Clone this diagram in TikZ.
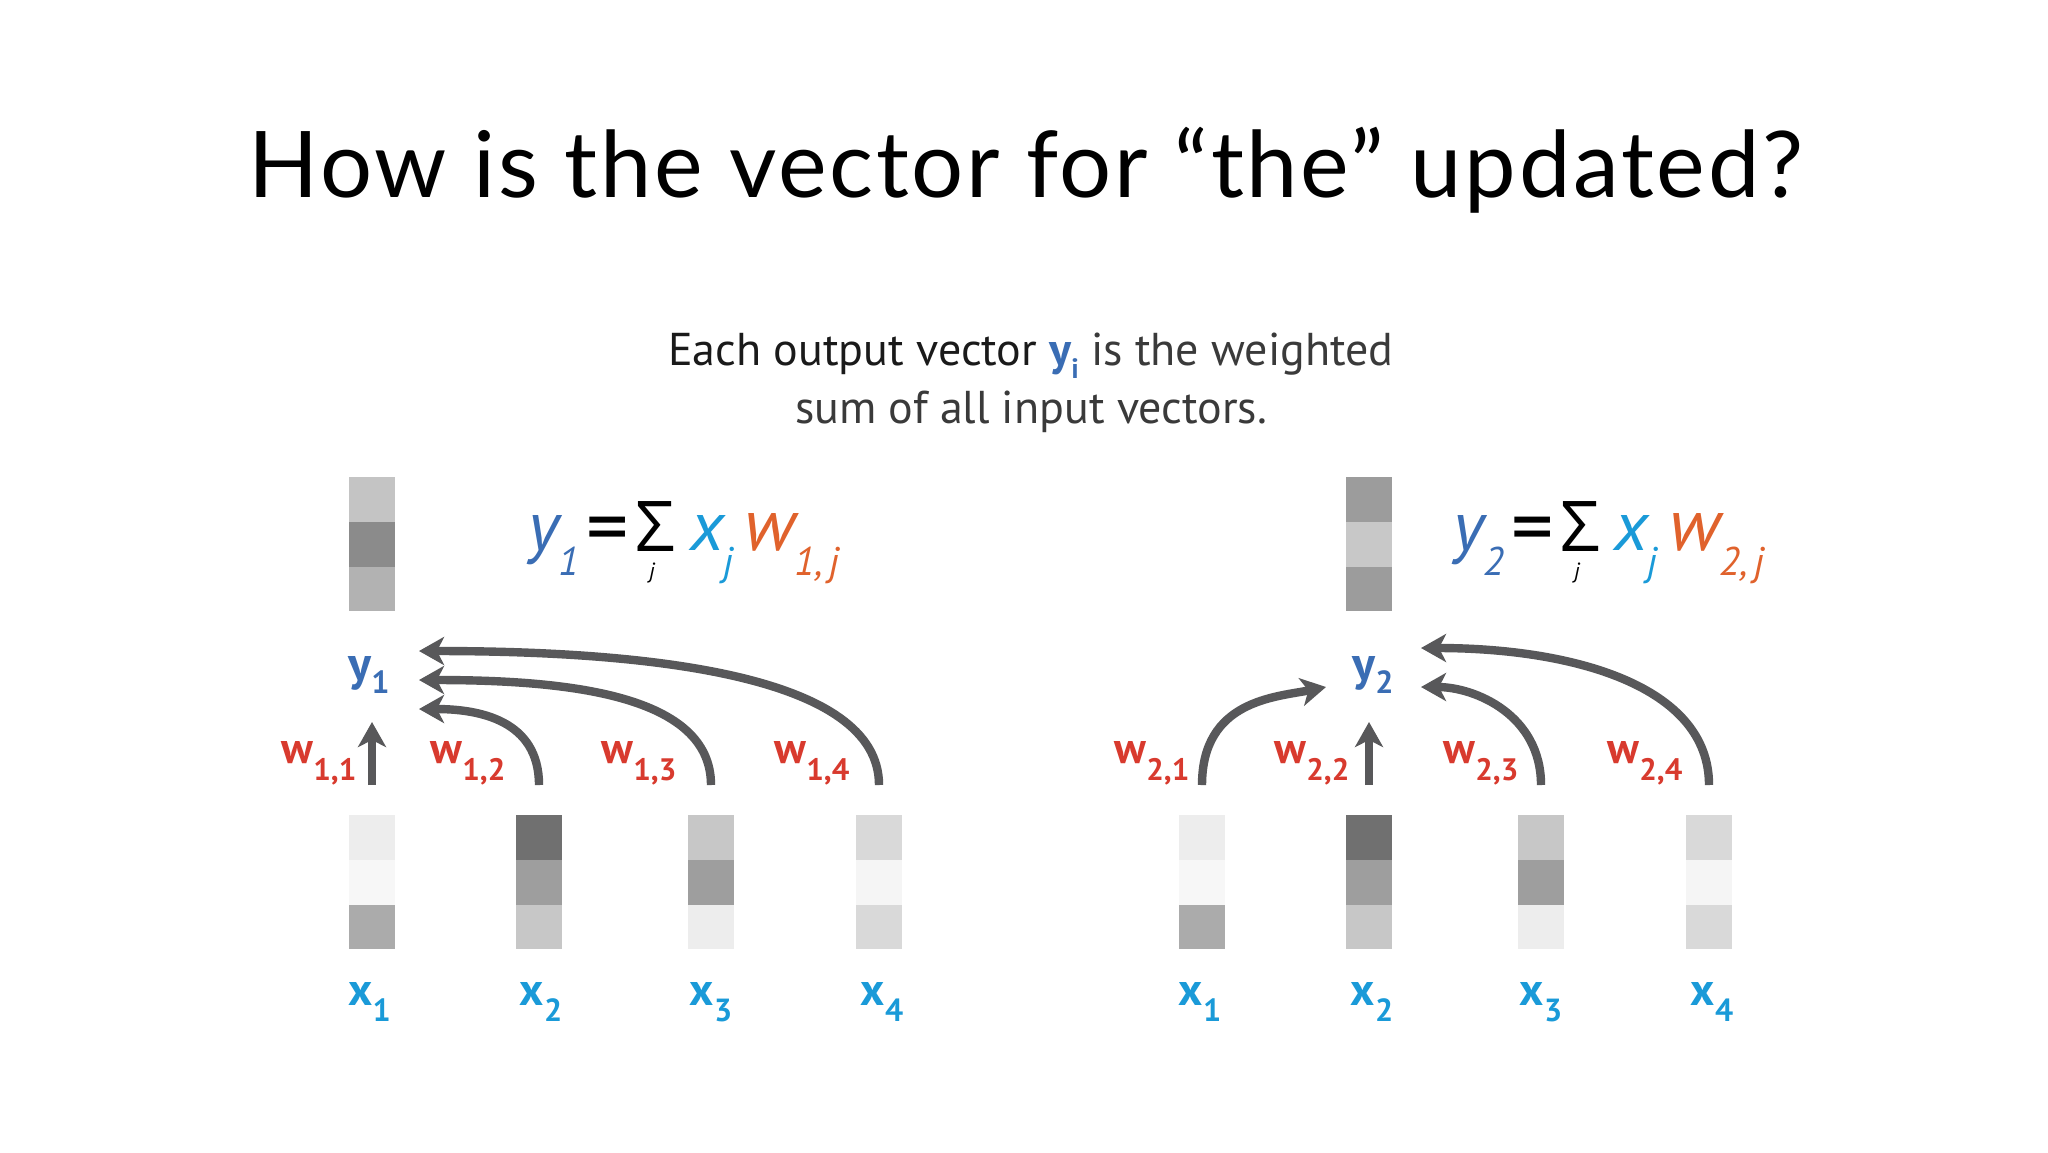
\documentclass[tikz,border=0pt]{standalone}
\usepackage{fontspec}
\setmainfont{PT Sans}
\newfontfamily\titlefont[LetterSpace=3]{Lato}
\newfontfamily\sigfont{Open Sans}
\usetikzlibrary{arrows.meta}
\definecolor{yblue}{HTML}{3A6DB4}
\definecolor{xcyan}{HTML}{1A9AD8}
\definecolor{wred}{HTML}{D83A2E}
\definecolor{forange}{HTML}{E0622C}
\definecolor{arrgray}{HTML}{58585A}
\definecolor{subdark}{HTML}{1A1A1A}
\definecolor{subgray}{HTML}{3A3A3A}
\newcommand{\wsub}[1]{\raisebox{-8.5pt}{\fontsize{15.5}{15.5}\selectfont #1}}
\newcommand{\xsub}[1]{\raisebox{-8pt}{\fontsize{16}{16}\selectfont #1}}
\newcommand{\ysub}[1]{\raisebox{-6.5pt}{\fontsize{16}{16}\selectfont #1}}
\newcommand{\fsub}[1]{\raisebox{-12.5pt}{\fontsize{20}{20}\selectfont #1}}
\newcommand{\vecbar}[6]{%
  \fill[#4] ({#2-22.75},{#3}) rectangle ({#2+22.75},{#3+45});
  \fill[#5] ({#2-22.75},{#3+45}) rectangle ({#2+22.75},{#3+90});
  \fill[#6] ({#2-22.75},{#3+90}) rectangle ({#2+22.75},{#3+134});
  \node[cellbar] (#1) at ({#2},{#3+67}) {};
}
\tikzset{
  every node/.style={inner sep=0pt, outer sep=0pt},
  wlab/.style={text=wred, font=\fontsize{22}{22}\selectfont\bfseries, anchor=base},
  xlab/.style={text=xcyan, font=\fontsize{23}{23}\selectfont\bfseries, anchor=base},
  ylab/.style={text=yblue, font=\fontsize{24}{24}\selectfont\bfseries, anchor=base},
  arr/.style={draw=arrgray, line width=4.2pt, -{Stealth[length=12.5pt,width=14pt,inset=3.5pt]}},
  cellbar/.style={minimum width=22.75pt, minimum height=67pt},
  formula/.style={font=\fontsize{35}{35}\selectfont\itshape, anchor=base west},
  bigw/.style={font=\fontsize{37}{37}\selectfont\itshape, anchor=base west},
  eqsign/.style={font=\fontsize{42}{42}\selectfont, anchor=base},
  sigma/.style={font=\sigfont\fontsize{35}{35}\selectfont, anchor=base},
  sumidx/.style={font=\fontsize{11}{11}\selectfont\itshape, anchor=base},
}
\begin{document}
\begin{tikzpicture}[x=0.5pt, y=-0.5pt]
\fill[white] (0,0) rectangle (2048,1152);
\useasboundingbox (0,0) rectangle (2048,1152);

% title and subtitle
\node[anchor=base, font=\titlefont\fontsize{46}{46}\selectfont] (title) at (1026,197) {How is the vector for “the” updated?};
\node[anchor=base, font=\fontsize{23}{23}\selectfont] (sub1) at (1031,365)
  {\textcolor{subdark}{Each output vector} \textcolor{yblue}{\bfseries y\raisebox{-6.5pt}{\fontsize{14}{14}\selectfont i}} \textcolor{subgray}{is the weighted}};
\node[anchor=base, font=\fontsize{23}{23}\selectfont, text=subgray] (sub2) at (1031,423) {sum of all input vectors.};

% ---------- left diagram ----------
\vecbar{y1bar}{372}{477}{black!23}{black!45.5}{black!30}
\vecbar{x1L}{372}{815}{black!7}{black!3}{black!33}
\vecbar{x2L}{539}{815}{black!56}{black!38}{black!22}
\vecbar{x3L}{711}{815}{black!22}{black!38}{black!7}
\vecbar{x4L}{879}{815}{black!15}{black!4}{black!15}

\node[formula, text=yblue] (f1y) at (528,550) {y\fsub{1}};
\node[eqsign] (f1e) at (608,555) {=};
\node[sigma] (f1s) at (655,551) {Σ};
\node[sumidx] (f1j) at (652,578) {j};
\node[formula, text=xcyan] (f1x) at (690,550) {x\fsub{j}};
\node[bigw, text=forange] (f1w) at (744,550) {w\fsub{1,\,j}};

\node[ylab] (y1) at (369,680) {y\ysub{1}};

\node[wlab] (w11) at (319,763) {w\wsub{1,1}};
\node[wlab] (w12) at (468,763) {w\wsub{1,2}};
\node[wlab] (w13) at (639,763) {w\wsub{1,3}};
\node[wlab] (w14) at (812,763) {w\wsub{1,4}};

\node[xlab] (lx1) at (369.5,1005) {x\xsub{1}};
\node[xlab] (lx2) at (541,1005) {x\xsub{2}};
\node[xlab] (lx3) at (711,1005) {x\xsub{3}};
\node[xlab] (lx4) at (882,1005) {x\xsub{4}};

\coordinate (t1L) at (372,722);
\coordinate (t2L) at (419,709);
\coordinate (t3L) at (419,680);
\coordinate (t4L) at (419,651);
\draw[arr] ([yshift=15pt]x1L.north) -- (t1L);
\draw[arr] ([yshift=15pt]x2L.north) .. controls +(0,-65) and +(60,0) .. (t2L);
\draw[arr] ([yshift=15pt]x3L.north) .. controls +(0,-90) and +(150,0) .. (t3L);
\draw[arr] ([yshift=15pt]x4L.north) .. controls +(0,-110) and +(230,0) .. (t4L);

% ---------- right diagram ----------
\vecbar{y2bar}{1369}{477}{black!39}{black!21.5}{black!39}
\vecbar{x1R}{1202}{815}{black!7}{black!3}{black!33}
\vecbar{x2R}{1369}{815}{black!56}{black!38}{black!22}
\vecbar{x3R}{1541}{815}{black!22}{black!38}{black!7}
\vecbar{x4R}{1709}{815}{black!15}{black!4}{black!15}

\node[formula, text=yblue] (f2y) at (1453,550) {y\fsub{2}};
\node[eqsign] (f2e) at (1533,555) {=};
\node[sigma] (f2s) at (1580,551) {Σ};
\node[sumidx] (f2j) at (1577,578) {j};
\node[formula, text=xcyan] (f2x) at (1614,550) {x\fsub{j}};
\node[bigw, text=forange] (f2w) at (1669,550) {w\fsub{2,\,j}};

\node[ylab] (y2) at (1373,680) {y\ysub{2}};

\node[wlab] (w21) at (1152,763) {w\wsub{2,1}};
\node[wlab] (w22) at (1312,763) {w\wsub{2,2}};
\node[wlab] (w23) at (1481,763) {w\wsub{2,3}};
\node[wlab] (w24) at (1645,763) {w\wsub{2,4}};

\node[xlab] (rx1) at (1200,1005) {x\xsub{1}};
\node[xlab] (rx2) at (1372,1005) {x\xsub{2}};
\node[xlab] (rx3) at (1541,1005) {x\xsub{3}};
\node[xlab] (rx4) at (1712,1005) {x\xsub{4}};

\coordinate (t1R) at (1326,687);
\coordinate (t2R) at (1369,722);
\coordinate (t3R) at (1421,687);
\coordinate (t4R) at (1421,648);
\draw[arr] ([yshift=15pt]x2R.north) -- (t2R);
\draw[arr] ([yshift=15pt]x1R.north) .. controls +(0,-85) and +(-50,10) .. (t1R);
\draw[arr] ([yshift=15pt]x3R.north) .. controls +(0,-70) and +(54,0) .. (t3R);
\draw[arr] ([yshift=15pt]x4R.north) .. controls +(0,-100) and +(150,0) .. (t4R);
\end{tikzpicture}
\end{document}
